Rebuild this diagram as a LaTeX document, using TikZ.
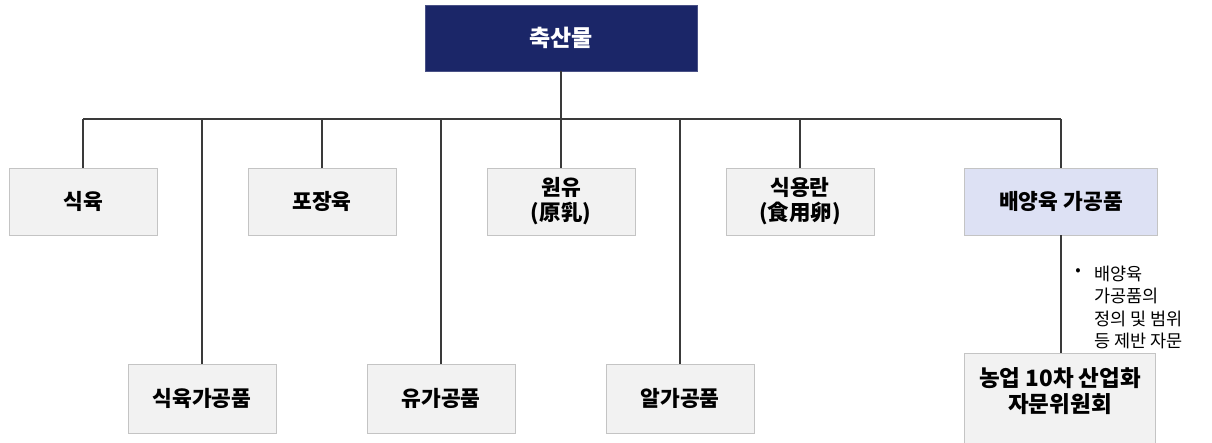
\documentclass[tikz,border=0pt]{standalone}
\usepackage{fontspec}
\setmainfont{Noto Sans CJK KR}
\definecolor{navy}{HTML}{1B2668}
\definecolor{boxgray}{HTML}{F2F2F2}
\definecolor{edgegray}{HTML}{C4C4C4}
\definecolor{lav}{HTML}{DDE1F4}
\definecolor{linec}{HTML}{3A3A3A}
\begin{document}
\begin{tikzpicture}[x=1pt,y=-1pt,
  topbox/.style={fill=navy,draw=navy!80!white,minimum width=272pt,minimum height=66pt,text=white,font=\bfseries\fontsize{23}{26}\selectfont,inner sep=0pt},
  catbox/.style={fill=boxgray,draw=edgegray,line width=0.8pt,minimum width=148pt,minimum height=67pt,font=\bfseries\fontsize{21.5}{25}\selectfont,align=center,inner sep=0pt},
  hibox/.style={catbox,fill=lav,minimum width=193pt},
  conn/.style={draw=linec,line width=1.1pt},
  note/.style={font=\fontsize{17.5}{22.3}\selectfont,align=left,inner sep=0pt,anchor=north west}
]
\useasboundingbox (0,0) rectangle (1212,443);
\node[topbox] (top) at (561,38) {축산물};
\coordinate (bus) at (0,119);
\node[catbox] (sik) at (83,201.5) {식육};
\node[catbox] (pojang) at (322,201.5) {포장육};
\node[catbox] (wonyu) at (561,201.5) {원유\\(原乳)};
\node[catbox] (sikyong) at (800,201.5) {식용란\\(食用卵)};
\node[hibox] (baeyang) at (1061,201.5) {배양육 가공품};
\node[catbox,minimum height=69pt] (sikga) at (202,398.5) {식육가공품};
\node[catbox,minimum height=69pt] (yuga) at (441,398.5) {유가공품};
\node[catbox,minimum height=69pt] (alga) at (680,398.5) {알가공품};
\node[catbox,minimum width=191pt,minimum height=91pt,anchor=north] (nong) at (1060,353) {};
\node[font=\bfseries\fontsize{22.5}{26}\selectfont,align=center,inner sep=0pt] (nongtext) at ([yshift=8pt]nong.center) {농업 10차 산업화\\자문위원회};
\draw[conn] (top.south) -- (top.south |- bus);
\draw[conn] (sik.north |- bus) -- (baeyang.north |- bus);
\foreach \n in {sik,pojang,wonyu,sikyong,baeyang,sikga,yuga,alga}
  \draw[conn] (\n.north) -- (\n.north |- bus);
\draw[conn] (baeyang.south) -- (baeyang.south |- nong.north);
\node[note,anchor=center,font=\fontsize{16}{16}\selectfont] (bul) at (1078,272) {•};
\node[note] (notetext) at (1094,266) {배양육\\가공품의\\정의 및 범위\\등 제반 자문};
\end{tikzpicture}
\end{document}
